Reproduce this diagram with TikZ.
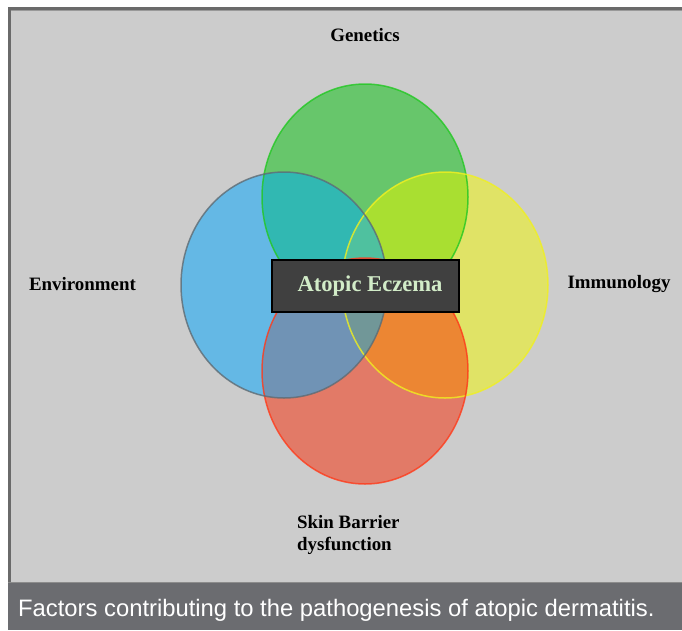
\documentclass[tikz,border=0pt]{standalone}
\usepackage{fontspec}
\setmainfont{Liberation Serif}
\newfontfamily\capfont{Liberation Sans}
\definecolor{bgl}{HTML}{CCCCCC}
\definecolor{frm}{HTML}{6A6A6A}
\definecolor{capbg}{HTML}{6B6C70}
\definecolor{cg}{HTML}{67C66B}
\definecolor{cb}{HTML}{64B8E5}
\definecolor{cy}{HTML}{E0E366}
\definecolor{cr}{HTML}{E27A67}
\definecolor{cgb}{HTML}{31B8B2}
\definecolor{cgy}{HTML}{A9DF31}
\definecolor{cbr}{HTML}{7093B5}
\definecolor{cyr}{HTML}{EC8633}
\definecolor{cgr}{HTML}{A0A070}
\definecolor{cby}{HTML}{60A8A0}
\definecolor{cgby}{HTML}{4FC19F}
\definecolor{crby}{HTML}{719798}
\definecolor{sg}{HTML}{22C822}
\definecolor{sb}{HTML}{5F6B73}
\definecolor{sy}{HTML}{F0F020}
\definecolor{sr}{HTML}{FF3A1A}
\definecolor{boxfill}{HTML}{404040}
\definecolor{boxtext}{HTML}{D2ECC8}
\begin{document}
\begin{tikzpicture}[x=1pt,y=-1pt,
  rad/.style={x radius=103pt,y radius=113pt},
  ring/.style={line width=1.5pt,draw opacity=0.8},
  lab/.style={font=\fontsize{18.9}{22}\selectfont\bfseries,text=black,inner sep=0pt},
  box/.style={fill=boxfill,draw=black,line width=2pt,minimum width=187pt,minimum height=52pt,inner sep=0pt,
    text=boxtext,font=\fontsize{22.6}{26}\selectfont\bfseries}]
\useasboundingbox (0,0) rectangle (682,630);
\fill[white] (0,0) rectangle (682,630);
% frame
\fill[bgl] (8,7) rectangle (682,583);
\fill[frm] (8,7) rectangle (682,9.5);
\fill[frm] (8,7) rectangle (10.5,583);
\draw[black!40,line width=0.8pt] (10.5,10) -- (682,10);
\draw[black!45,line width=1pt] (8,582.5) -- (682,582.5);
\fill[capbg] (8,583) rectangle (682,630);
% centres
\coordinate (cG) at (365,197);
\coordinate (cB) at (284,285);
\coordinate (cY) at (445,285);
\coordinate (cR) at (365,371);
% single fills
\fill[cg] (cG) ellipse[rad];
\fill[cb] (cB) ellipse[rad];
\fill[cy] (cY) ellipse[rad];
\fill[cr] (cR) ellipse[rad];
% pairwise
\begin{scope}
  \clip (cG) ellipse[rad];
  \fill[cgb] (cB) ellipse[rad];
  \fill[cgy] (cY) ellipse[rad];
  \fill[cgr] (cR) ellipse[rad];
\end{scope}
\begin{scope}
  \clip (cR) ellipse[rad];
  \fill[cbr] (cB) ellipse[rad];
  \fill[cyr] (cY) ellipse[rad];
\end{scope}
\begin{scope}
  \clip (cB) ellipse[rad];
  \fill[cby] (cY) ellipse[rad];
\end{scope}
\begin{scope}
  \clip (cB) ellipse[rad];
  \clip (cY) ellipse[rad];
  \fill[cgby] (cG) ellipse[rad];
  \fill[crby] (cR) ellipse[rad];
\end{scope}
% outlines
\draw[ring,sg] (cG) ellipse[rad];
\draw[ring,sy] (cY) ellipse[rad];
\draw[ring,sr] (cR) ellipse[rad];
\draw[ring,sb] (cB) ellipse[rad];
% centre box
\node[box] (ae) at (365.5,286) {\hspace*{9pt}Atopic Eczema};
% labels
\node[lab] (gen) at (365,35) {Genetics};
\node[lab] (env) at (82.5,284) {Environment};
\node[lab] (imm) at (619,284) {Immunology};
\node[lab,anchor=west,align=left] (skin) at (297,534.5) {Skin Barrier\\dysfunction};
% caption
\node[anchor=base west,text=white,inner sep=0pt,font=\capfont\fontsize{23.8}{28}\selectfont] (cap) at (18,616)
  {Factors contributing to the pathogenesis of atopic dermatitis.};
\end{tikzpicture}
\end{document}
